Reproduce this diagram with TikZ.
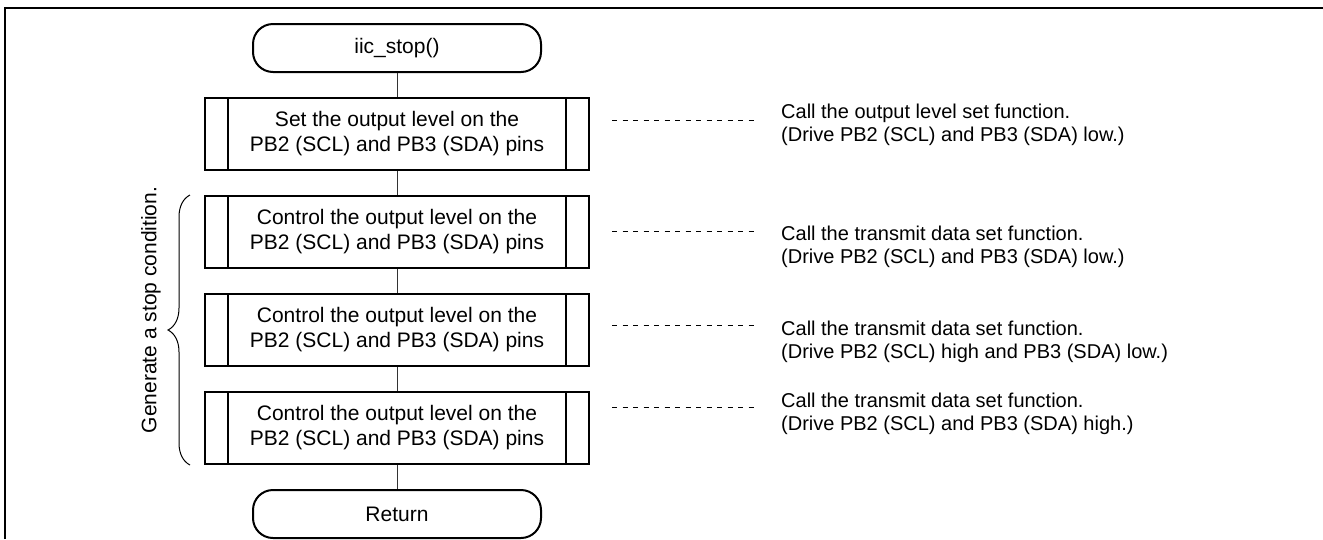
\documentclass[tikz,border=0pt]{standalone}
\usepackage{fontspec}
\setmainfont{Liberation Sans}
\usetikzlibrary{positioning, decorations.pathreplacing}
\tikzset{
  node distance=24pt,
  terminal/.style={draw, line width=2pt, rounded corners=20pt,
    minimum width=288pt, minimum height=48pt, font=\fontsize{21}{25}\selectfont},
  subproc/.style={draw, line width=2pt, minimum width=384pt,
    minimum height=72pt, align=center, font=\fontsize{21}{25}\selectfont},
  note/.style={anchor=west, align=left, inner sep=0pt,
    font=\fontsize{20}{23}\selectfont},
  flow/.style={line width=1pt, black!80},
  dashline/.style={line width=0.8pt, dash pattern=on 5pt off 5.5pt},
  bracket/.style={line width=1pt, decorate, decoration={brace, amplitude=22pt}},
}

\begin{document}
\begin{tikzpicture}[x=1pt, y=-1pt]
  \useasboundingbox (0,0) rectangle (1323,539);
  % outer frame (top and left only)
  \draw[line width=2pt] (5,539) -- (5,8) -- (1323,8);

  \node[terminal]                (start) at (397,48) {iic\_stop()};
  \node[subproc, below=of start] (b1) {Set the output level on the\\PB2 (SCL) and PB3 (SDA) pins};
  \node[subproc, below=of b1]    (b2) {Control the output level on the\\PB2 (SCL) and PB3 (SDA) pins};
  \node[subproc, below=of b2]    (b3) {Control the output level on the\\PB2 (SCL) and PB3 (SDA) pins};
  \node[subproc, below=of b3]    (b4) {Control the output level on the\\PB2 (SCL) and PB3 (SDA) pins};
  \node[terminal, below=of b4]   (ret) {Return};

  \foreach \b in {b1,b2,b3,b4}
    \draw[line width=2pt] ([xshift=24pt]\b.north west) -- ([xshift=24pt]\b.south west)
                          ([xshift=-24pt]\b.north east) -- ([xshift=-24pt]\b.south east);

  \draw[flow] (start) -- (b1)
              (b1) -- (b2)
              (b2) -- (b3)
              (b3) -- (b4)
              (b4) -- (ret);

  % comments
  \node[note] (c1) at (781,125) {Call the output level set function.\\(Drive PB2 (SCL) and PB3 (SDA) low.)};
  \node[note] (c2) at (781,247) {Call the transmit data set function.\\(Drive PB2 (SCL) and PB3 (SDA) low.)};
  \node[note] (c3) at (781,342) {Call the transmit data set function.\\(Drive PB2 (SCL) high and PB3 (SDA) low.)};
  \node[note] (c4) at (781,414) {Call the transmit data set function.\\(Drive PB2 (SCL) and PB3 (SDA) high.)};

  \coordinate (d1a) at (612,120); \coordinate (d1b) at (757,120);
  \coordinate (d2a) at (612,231); \coordinate (d2b) at (757,231);
  \coordinate (d3a) at (612,325); \coordinate (d3b) at (757,325);
  \coordinate (d4a) at (612,407); \coordinate (d4b) at (757,407);
  \draw[dashline] (d1a) -- (d1b) (d2a) -- (d2b) (d3a) -- (d3b) (d4a) -- (d4b);

  % stop condition bracket
  \draw[bracket] ([xshift=-14pt]b4.south west) -- ([xshift=-14pt]b2.north west);
  \node[rotate=90, font=\fontsize{21}{25}\selectfont] (gen) at (151,310) {Generate a stop condition.};
\end{tikzpicture}
\end{document}
